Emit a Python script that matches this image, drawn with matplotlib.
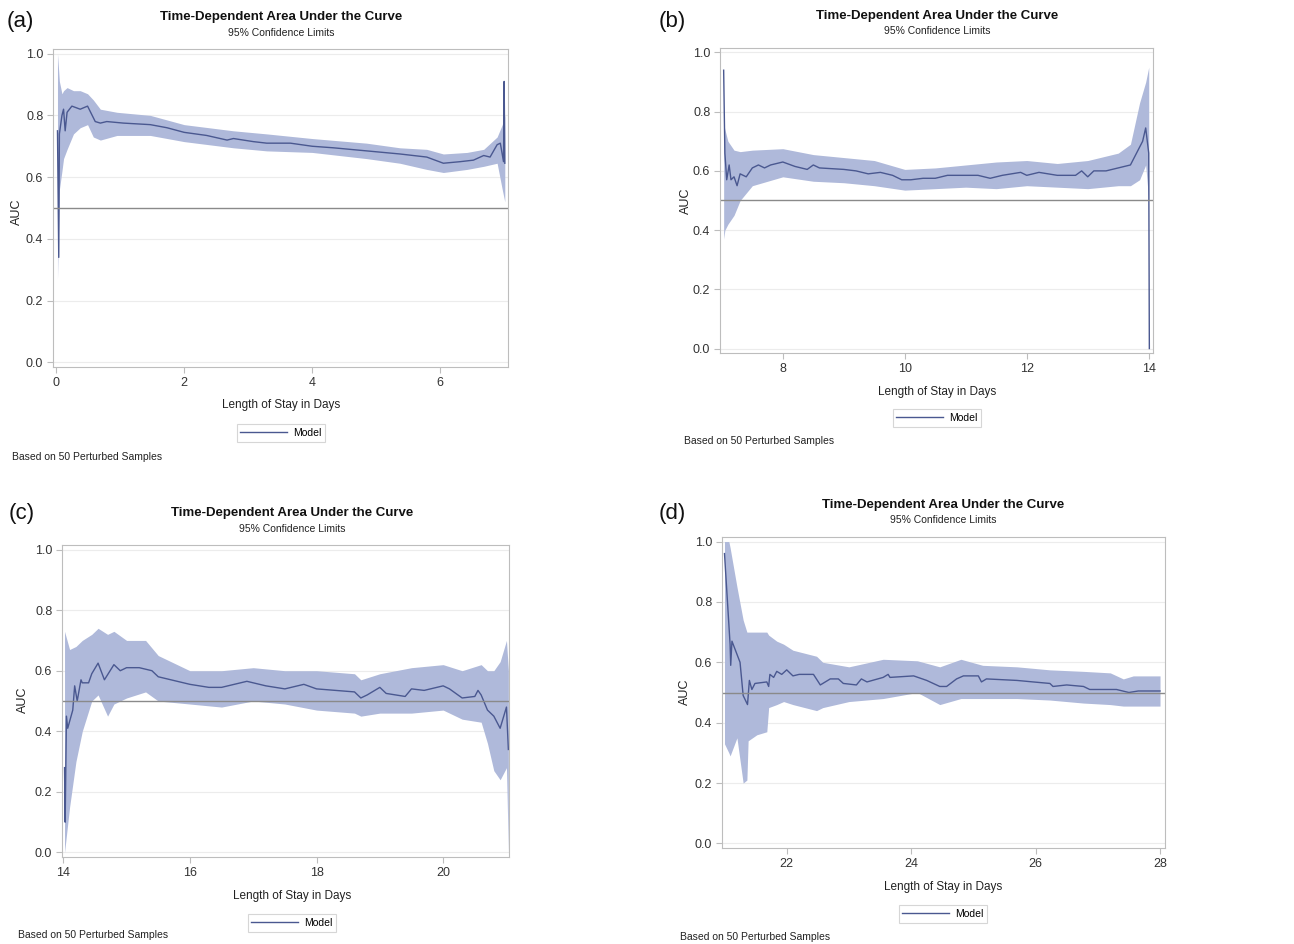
import matplotlib
matplotlib.use('Agg')
import matplotlib.pyplot as plt
from matplotlib.lines import Line2D

plt.rcParams['font.family'] = ['Liberation Sans', 'DejaVu Sans']

# --- Data (x in days, AUC) ---
# panel (a): 0-7 days
a_line_x = [0.02, 0.04, 0.05, 0.09, 0.115, 0.14, 0.17, 0.245, 0.375, 0.49, 0.61, 0.69, 0.79, 1.05,
            1.47, 1.73, 2.0, 2.35, 2.67, 2.77, 3.08, 3.29, 3.66, 4.0, 4.33, 4.85, 5.11, 5.37, 5.79,
            6.05, 6.31, 6.52, 6.68, 6.78, 6.89, 6.94, 6.99, 7.0, 7.01]
a_line_y = [0.75, 0.34, 0.74, 0.80, 0.82, 0.75, 0.81, 0.83, 0.82, 0.83, 0.78, 0.775, 0.78, 0.775,
            0.77, 0.76, 0.745, 0.735, 0.72, 0.725, 0.715, 0.71, 0.71, 0.70, 0.695, 0.685, 0.68, 0.675, 0.665,
            0.645, 0.65, 0.655, 0.67, 0.665, 0.705, 0.71, 0.65, 0.91, 0.645]
a_band_x = [0.02, 0.05, 0.09, 0.115, 0.17, 0.27, 0.375, 0.49, 0.58, 0.69, 0.95, 1.47, 2.0, 2.77,
            3.29, 4.0, 4.85, 5.37, 5.79, 6.05, 6.42, 6.68, 6.89, 6.97, 7.01]
a_lo = [0.27, 0.56, 0.62, 0.66, 0.69, 0.74, 0.76, 0.77, 0.73, 0.72, 0.735, 0.735, 0.715, 0.695,
        0.685, 0.68, 0.66, 0.645, 0.625, 0.615, 0.625, 0.635, 0.645, 0.56, 0.52]
a_hi = [1.0, 0.91, 0.87, 0.88, 0.89, 0.88, 0.88, 0.87, 0.85, 0.82, 0.81, 0.80, 0.77, 0.75,
        0.74, 0.725, 0.71, 0.695, 0.69, 0.675, 0.68, 0.69, 0.73, 0.77, 0.80]

# panel (b): 7-14 days
b_line_x = [7.03, 7.05, 7.08, 7.12, 7.15, 7.2, 7.25, 7.3, 7.4, 7.5, 7.6, 7.7, 7.8, 8.0, 8.2, 8.4,
            8.5, 8.6, 9.0, 9.2, 9.4, 9.6, 9.8, 9.95, 10.1, 10.3, 10.5, 10.7, 11.0, 11.2, 11.4, 11.6,
            11.9, 12.0, 12.2, 12.5, 12.8, 12.9, 13.0, 13.1, 13.3, 13.5, 13.7, 13.8, 13.9, 13.95,
            14.0, 14.01]
b_line_y = [0.94, 0.66, 0.57, 0.62, 0.57, 0.58, 0.55, 0.59, 0.58, 0.61, 0.62, 0.61, 0.62, 0.63, 0.615, 0.605,
            0.62, 0.61, 0.605, 0.60, 0.59, 0.595, 0.585, 0.57, 0.57, 0.575, 0.575, 0.585, 0.585, 0.585, 0.575, 0.585,
            0.595, 0.585, 0.595, 0.585, 0.585, 0.60, 0.58, 0.60, 0.60, 0.61, 0.62, 0.66, 0.70, 0.745,
            0.66, 0.0]
b_band_x = [7.03, 7.05, 7.1, 7.2, 7.3, 7.5, 8.0, 8.5, 9.0, 9.5, 10.0, 10.5, 11.0, 11.5, 12.0,
            12.5, 13.0, 13.5, 13.7, 13.85, 13.95, 14.0]
b_lo = [0.37, 0.40, 0.42, 0.45, 0.50, 0.55, 0.58, 0.565, 0.56, 0.55, 0.535, 0.54, 0.545, 0.54, 0.55,
        0.545, 0.54, 0.55, 0.55, 0.57, 0.62, 0.50]
b_hi = [0.76, 0.74, 0.70, 0.67, 0.665, 0.67, 0.675, 0.655, 0.645, 0.635, 0.605, 0.61, 0.62, 0.63, 0.635,
        0.625, 0.635, 0.66, 0.69, 0.83, 0.90, 0.95]

# panel (c): 14-21 days
c_line_x = [14.02, 14.03, 14.05, 14.07, 14.15, 14.18, 14.22, 14.28, 14.3, 14.4, 14.45, 14.55, 14.65,
            14.8, 14.9, 15.0, 15.2, 15.4, 15.5, 15.7, 16.0, 16.3, 16.5, 16.7, 16.9, 17.2, 17.5, 17.8,
            18.0, 18.3, 18.6, 18.7, 18.8, 19.0, 19.1, 19.4, 19.5, 19.7, 20.0, 20.1, 20.2, 20.3, 20.5,
            20.55, 20.6, 20.7, 20.8, 20.9, 21.0, 21.03]
c_line_y = [0.28, 0.10, 0.45, 0.41, 0.47, 0.55, 0.50, 0.57, 0.56, 0.56, 0.59, 0.625, 0.57,
            0.62, 0.60, 0.61, 0.61, 0.60, 0.58, 0.57, 0.555, 0.545, 0.545, 0.555, 0.565, 0.55, 0.54, 0.555,
            0.54, 0.535, 0.53, 0.51, 0.52, 0.545, 0.525, 0.515, 0.54, 0.535, 0.55, 0.54, 0.525, 0.51, 0.515,
            0.535, 0.52, 0.47, 0.45, 0.41, 0.48, 0.34]
c_band_x = [14.02, 14.1, 14.2, 14.3, 14.45, 14.55, 14.7, 14.8, 15.0, 15.3, 15.5, 16.0, 16.5, 17.0,
            17.5, 18.0, 18.6, 18.7, 19.0, 19.5, 20.0, 20.3, 20.6, 20.7, 20.8, 20.9, 21.0, 21.03]
c_lo = [0.0, 0.15, 0.30, 0.40, 0.50, 0.52, 0.45, 0.49, 0.51, 0.53, 0.50, 0.49, 0.48, 0.50,
        0.49, 0.47, 0.46, 0.45, 0.46, 0.46, 0.47, 0.44, 0.43, 0.36, 0.27, 0.24, 0.28, 0.0]
c_hi = [0.73, 0.67, 0.68, 0.70, 0.72, 0.74, 0.72, 0.73, 0.70, 0.70, 0.65, 0.60, 0.60, 0.61,
        0.60, 0.60, 0.59, 0.57, 0.59, 0.61, 0.62, 0.60, 0.62, 0.60, 0.60, 0.63, 0.70, 0.60]

# panel (d): 21-28 days
d_line_x = [21.0, 21.09, 21.1, 21.12, 21.25, 21.3, 21.37, 21.4, 21.44, 21.49, 21.68, 21.71, 21.73,
            21.79, 21.84, 21.92, 22.0, 22.1, 22.2, 22.43, 22.54, 22.7, 22.83, 22.91, 23.12, 23.2,
            23.29, 23.55, 23.63, 23.66, 24.04, 24.25, 24.46, 24.57, 24.73, 24.84, 25.08, 25.13,
            25.21, 25.7, 25.96, 26.23, 26.28, 26.5, 26.77, 26.87, 27.3, 27.5, 27.65, 28.0]
d_line_y = [0.96, 0.66, 0.59, 0.67, 0.60, 0.49, 0.46, 0.54, 0.51, 0.53, 0.535, 0.52, 0.56,
            0.55, 0.57, 0.56, 0.575, 0.555, 0.56, 0.56, 0.525, 0.545, 0.545, 0.53, 0.525, 0.545,
            0.535, 0.55, 0.56, 0.55, 0.555, 0.54, 0.52, 0.52, 0.545, 0.555, 0.555, 0.535,
            0.545, 0.54, 0.535, 0.53, 0.52, 0.525, 0.52, 0.51, 0.51, 0.50, 0.505, 0.505]
d_band_x = [21.0, 21.07, 21.09, 21.2, 21.3, 21.36, 21.38, 21.52, 21.68, 21.71, 21.84, 21.95, 22.1,
            22.48, 22.58, 23.0, 23.55, 24.1, 24.46, 24.8, 25.15, 25.7, 26.23, 26.77, 27.2, 27.41,
            27.57, 28.0]
d_lo = [0.33, 0.30, 0.29, 0.35, 0.20, 0.21, 0.34, 0.36, 0.37, 0.45, 0.46, 0.47, 0.46,
        0.44, 0.45, 0.47, 0.48, 0.50, 0.46, 0.48, 0.48, 0.48, 0.475, 0.465, 0.46, 0.455,
        0.455, 0.455]
d_hi = [1.0, 1.0, 0.98, 0.85, 0.74, 0.70, 0.70, 0.70, 0.70, 0.69, 0.67, 0.66, 0.64,
        0.62, 0.60, 0.585, 0.61, 0.605, 0.585, 0.61, 0.59, 0.585, 0.575, 0.57, 0.565, 0.545,
        0.555, 0.555]

panels = [
    ('(a)', a_line_x, a_line_y, a_band_x, a_lo, a_hi, [0, 2, 4, 6], (-0.05, 7.06)),
    ('(b)', b_line_x, b_line_y, b_band_x, b_lo, b_hi, [8, 10, 12, 14], (6.97, 14.07)),
    ('(c)', c_line_x, c_line_y, c_band_x, c_lo, c_hi, [14, 16, 18, 20], (13.98, 21.04)),
    ('(d)', d_line_x, d_line_y, d_band_x, d_lo, d_hi, [22, 24, 26, 28], (20.96, 28.08)),
]

# axes boxes in pixels: left, right, top, bottom
boxes = [(53, 508, 49, 367), (720, 1153, 48, 353), (62, 509, 545, 857), (722, 1165, 537, 848)]
# text anchors in pixels: title x, title y, sub y, xlabel y, legend y, foot x, foot y, tag x, tag y, ylab x, ylab y
texts = [
    (281, 17, 33, 405, 433, 12, 457, 20, 22, 17, 212),
    (937, 16, 31, 392, 418, 684, 441, 672, 22, 686, 201),
    (292, 513, 529, 896, 923, 18, 935, 22, 513, 23, 700),
    (943, 505, 520, 887, 914, 680, 937, 672, 513, 685, 692),
]

W, H = 1294, 944
BAND = '#afb9da'
LINE = '#4a5890'
EDGE = '#bdbdbd'

fig = plt.figure(figsize=(W / 100, H / 100), dpi=100)


def fx(px):
    return px / W


def fy(py):
    return 1 - py / H


for (tag, lx, ly, bx, lo, hi, xt, xl), (l, r, t, b), tx in zip(panels, boxes, texts):
    ax = fig.add_axes([fx(l), fy(b), (r - l) / W, (b - t) / H])
    ax.fill_between(bx, lo, hi, color=BAND, lw=0)
    ax.plot(lx, ly, color=LINE, lw=1.0)
    ax.axhline(0.5, color='#8a8a8a', lw=1.0)
    ax.set_xlim(*xl)
    ax.set_ylim(-0.015, 1.015)
    ax.set_xticks(xt)
    ax.set_yticks([0.0, 0.2, 0.4, 0.6, 0.8, 1.0])
    ax.set_yticklabels(['0.0', '0.2', '0.4', '0.6', '0.8', '1.0'])
    ax.grid(axis='y', color='#ececec', lw=0.8)
    ax.set_axisbelow(True)
    for s in ax.spines.values():
        s.set_color(EDGE)
    ax.tick_params(labelcolor='#333333', labelsize=9, length=4, width=0.8, color=EDGE, pad=3)

    cx, ty, sy, xly, lgy, ftx, fty, tgx, tgy, ylx, yly = tx
    fig.text(fx(ylx), fy(yly), 'AUC', rotation=90, ha='center', va='center',
             fontsize=9, color='#222222')
    fig.text(fx(cx), fy(ty), 'Time-Dependent Area Under the Curve', ha='center', va='center',
             fontsize=9.5, fontweight='bold', color='#111111')
    fig.text(fx(cx), fy(sy), '95% Confidence Limits', ha='center', va='center',
             fontsize=7.5, color='#222222')
    fig.text(fx(cx), fy(xly), 'Length of Stay in Days', ha='center', va='center',
             fontsize=8.5, color='#222222')
    fig.text(fx(ftx), fy(fty), 'Based on 50 Perturbed Samples', ha='left', va='center',
             fontsize=7.5, color='#222222')
    fig.text(fx(tgx), fy(tgy), tag, ha='center', va='center', fontsize=16, color='#111111')

    handle = Line2D([], [], color=LINE, lw=1.0)
    leg = fig.legend([handle], ['Model'], loc='center', bbox_to_anchor=(fx(cx), fy(lgy)),
                     fontsize=7.5, frameon=True, fancybox=False, handlelength=4.5,
                     borderpad=0.35, handletextpad=0.6)
    leg.get_frame().set_edgecolor('#cccccc')
    leg.get_frame().set_linewidth(0.8)

fig.savefig('out.png', dpi=100, facecolor='white')
